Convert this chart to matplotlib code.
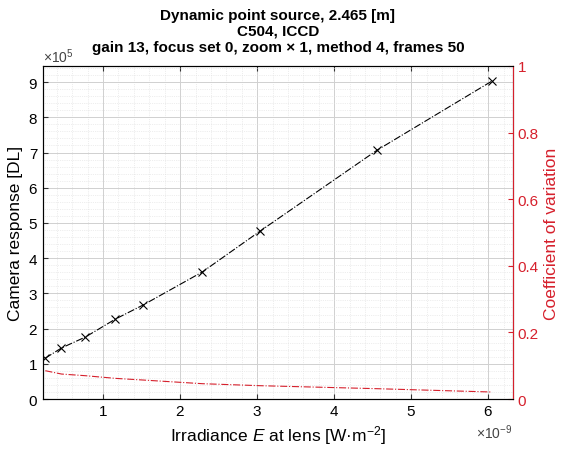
import numpy as np
import matplotlib
matplotlib.use('Agg')
import matplotlib.pyplot as plt
from matplotlib import rcParams
from matplotlib.ticker import AutoMinorLocator, MultipleLocator, ScalarFormatter, FormatStrFormatter

rcParams['font.family'] = ['Liberation Sans', 'DejaVu Sans']
rcParams['mathtext.fontset'] = 'custom'
rcParams['mathtext.rm'] = 'Liberation Sans'
rcParams['mathtext.it'] = 'Liberation Sans:italic'
rcParams['xtick.direction'] = 'in'
rcParams['ytick.direction'] = 'in'
rcParams['xtick.labelsize'] = 11
rcParams['ytick.labelsize'] = 11

# data
irradiance = np.array([0.25, 0.46, 0.77, 1.16, 1.52, 2.29, 3.04, 4.56, 6.05]) * 1e-9
response = np.array([1.16, 1.45, 1.76, 2.27, 2.67, 3.61, 4.77, 7.07, 9.03]) * 1e5
cov = np.array([0.085, 0.075, 0.070, 0.062, 0.057, 0.046, 0.040, 0.031, 0.021])

red = '#D6202C'

fig = plt.figure(figsize=(5.66, 4.52), dpi=100)
ax1 = fig.add_axes([0.076, 0.115, 0.830, 0.737])
ax1.plot(irradiance, response, color='black', linestyle='-.', linewidth=0.8,
         marker='x', markersize=6, markeredgewidth=0.8)
ax1.set_xlim(0.22e-9, 6.32e-9)
ax1.set_ylim(0, 9.46e5)
ax1.xaxis.set_major_locator(MultipleLocator(1e-9))
ax1.yaxis.set_major_locator(MultipleLocator(1e5))
ax1.xaxis.set_minor_locator(AutoMinorLocator(5))
ax1.yaxis.set_minor_locator(AutoMinorLocator(5))
for axis in (ax1.xaxis, ax1.yaxis):
    fmt = ScalarFormatter(useMathText=True)
    fmt.set_powerlimits((0, 0))
    axis.set_major_formatter(fmt)
    axis.get_offset_text().set_fontsize(10)
    axis.get_offset_text().set_color('#444444')
ax1.grid(which='major', color='#d0d0d0', linewidth=0.7)
ax1.grid(which='minor', color='#dedede', linewidth=0.5, linestyle=':')
ax1.set_axisbelow(True)
ax1.tick_params(which='both', top=True, color='#333333')
ax1.tick_params(which='minor', length=0)
ax1.set_xlabel('Irradiance $E$ at lens [W·m$^{-2}$]', fontsize=12.5)
ax1.set_ylabel('Camera response [DL]', fontsize=12.5, labelpad=4)
ax1.set_title('Dynamic point source, 2.465 [m]\nC504, ICCD\n'
              'gain 13, focus set 0, zoom × 1, method 4, frames 50',
              fontsize=11, fontweight='bold', linespacing=1.15, pad=11)
for s in ('left', 'top', 'bottom'):
    ax1.spines[s].set_color('#333333')

ax2 = ax1.twinx()
ax2.plot(irradiance, cov, color=red, linestyle='-.', linewidth=0.8)
ax2.set_ylim(0, 1)
ax2.yaxis.set_major_locator(MultipleLocator(0.2))
ax2.yaxis.set_major_formatter(FormatStrFormatter('%g'))
ax2.tick_params(axis='y', colors=red, which='both')
ax2.spines['right'].set_color(red)
ax2.xaxis.get_offset_text().set_visible(False)
ax2.set_ylabel('Coefficient of variation', color=red, fontsize=12.5, labelpad=4)

fig.savefig('out.png', dpi=100)
